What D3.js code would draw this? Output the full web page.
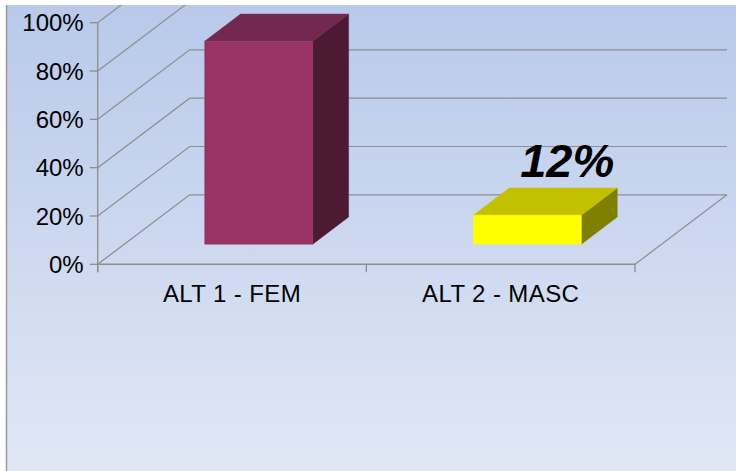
<!DOCTYPE html>
<head>
  <title>ALT chart</title>
  <style>
    body { margin: 0; background: #fff; }
    svg { display: block; }
  </style>
</head>
<body>
<script src="https://cdn.jsdelivr.net/npm/d3@7"></script>
<script>

// data
const categories = ["ALT 1 - FEM", "ALT 2 - MASC"];
const values = [84, 12];
const valueLabels = [null, "12%"];
const yTicks = [0, 20, 40, 60, 80, 100];

const frontColors = ["#993366", "#ffff00"];
const topColors = ["#73284f", "#c2c000"];
const sideColors = ["#4d1a33", "#808000"];

const width = 736;
const height = 471;

// plot geometry (front plane + depth offset)
const x0 = 97.7, x1 = 635;
const y0 = 264.3, y100 = 22.7;
const DX = 92, DY = -69.5;
const zFront = 0.29, zBack = 0.68;

const svg = d3.select("body").append("svg")
  .attr("width", width)
  .attr("height", height)

const defs = svg.append("defs")
const grad = defs.append("linearGradient")
  .attr("id", "bg")
  .attr("x1", 0).attr("y1", 0).attr("x2", 0).attr("y2", 1)
grad.append("stop").attr("offset", "0%").attr("stop-color", "#b8c9ea")
grad.append("stop").attr("offset", "100%").attr("stop-color", "#e1e7f5")

defs.append("clipPath").attr("id", "clip")
  .append("rect").attr("x", 7).attr("y", 5).attr("width", width - 7).attr("height", height - 5)

svg.append("rect")
  .attr("x", 7).attr("y", 5)
  .attr("width", width - 7).attr("height", height - 5)
  .attr("fill", "url(#bg)")

svg.append("line")
  .attr("x1", 6.5).attr("x2", 6.5).attr("y1", 5).attr("y2", height)
  .attr("stroke", "#9a9a9a").attr("stroke-width", 1.5)

const y = d3.scaleLinear().domain([0, 100]).range([y0, y100]);
const pad = 0.598;
const x = d3.scaleBand().domain(categories).range([x0, x1])
  .paddingInner(pad).paddingOuter(pad / 2);

// project a point on the front plane back by depth z (0..1)
const P = (px, v, z) => [px + z * DX, y(v) + z * DY];

const g = svg.append("g").attr("clip-path", "url(#clip)")
const gridColor = "#8e8e8e";

// left wall diagonals and back wall horizontals
yTicks.forEach(t => {
  const a = P(x0, t, 0), b = P(x0, t, 1), c = P(x1, t, 1);
  g.append("path")
    .attr("d", d3.line()([a, b, c]))
    .attr("fill", "none")
    .attr("stroke", gridColor)
    .attr("stroke-width", t === 0 ? 1.3 : 1.2)
})

// floor right edge
g.append("path")
  .attr("d", d3.line()([P(x1, 0, 0), P(x1, 0, 1)]))
  .attr("stroke", gridColor).attr("stroke-width", 1.2)

// front axes
g.append("line")
  .attr("x1", x0).attr("x2", x0).attr("y1", y(100)).attr("y2", y(0) + 8)
  .attr("stroke", gridColor).attr("stroke-width", 1.3)
g.append("line")
  .attr("x1", x0).attr("x2", x1).attr("y1", y(0)).attr("y2", y(0))
  .attr("stroke", gridColor).attr("stroke-width", 1.5)

// y ticks and labels
yTicks.forEach(t => {
  g.append("line")
    .attr("x1", x0 - 8).attr("x2", x0).attr("y1", y(t)).attr("y2", y(t))
    .attr("stroke", gridColor).attr("stroke-width", 1.3)
  g.append("text")
    .attr("x", x0 - 14).attr("y", y(t))
    .attr("dy", "0.36em")
    .attr("text-anchor", "end")
    .attr("font-family", "Liberation Sans, Arial, sans-serif")
    .attr("font-size", 24)
    .attr("fill", "#000")
    .text(t + "%")
})

// category ticks
const bounds = [x0, x0 + x.step(), x1];
bounds.forEach(bx => {
  g.append("line")
    .attr("x1", bx).attr("x2", bx).attr("y1", y(0)).attr("y2", y(0) + 8)
    .attr("stroke", gridColor).attr("stroke-width", 1.3)
})

categories.forEach(c => {
  g.append("text")
    .attr("x", x(c) + x.bandwidth() / 2)
    .attr("y", 302)
    .attr("text-anchor", "middle")
    .attr("font-family", "Liberation Sans, Arial, sans-serif")
    .attr("font-size", 24)
    .attr("letter-spacing", 0.4)
    .attr("fill", "#000")
    .text(c)
})

// 3d bars
categories.forEach((c, i) => {
  const l = x(c), r = x(c) + x.bandwidth(), v = values[i];
  const front = [P(l, 0, zFront), P(r, 0, zFront), P(r, v, zFront), P(l, v, zFront)];
  const side = [P(r, 0, zFront), P(r, 0, zBack), P(r, v, zBack), P(r, v, zFront)];
  const top = [P(l, v, zFront), P(r, v, zFront), P(r, v, zBack), P(l, v, zBack)];
  const bar = g.append("g")
  bar.append("path").attr("d", d3.line()(side) + "Z")
    .attr("fill", sideColors[i]).attr("stroke", sideColors[i]).attr("stroke-width", 0.5)
  bar.append("path").attr("d", d3.line()(top) + "Z")
    .attr("fill", topColors[i]).attr("stroke", topColors[i]).attr("stroke-width", 0.5)
  bar.append("path").attr("d", d3.line()(front) + "Z")
    .attr("fill", frontColors[i]).attr("stroke", frontColors[i]).attr("stroke-width", 0.5)

  if (valueLabels[i]) {
    const p = P((l + r) / 2, v, zBack);
    g.append("text")
      .attr("x", p[0] + 4)
      .attr("y", p[1] - 11)
      .attr("text-anchor", "middle")
      .attr("font-family", "Liberation Sans, Arial, sans-serif")
      .attr("font-size", 47)
      .attr("font-weight", "bold")
      .attr("font-style", "italic")
      .attr("fill", "#000")
      .text(valueLabels[i])
  }
})

</script>
</body>
